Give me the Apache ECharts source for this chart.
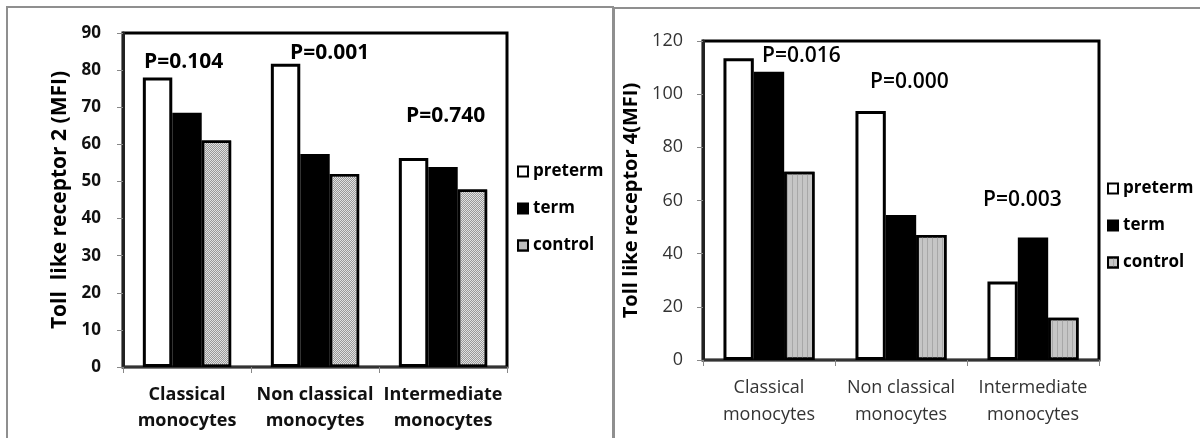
<!DOCTYPE html>
<html>
<head>
<meta charset="utf-8">
<script src="https://cdn.jsdelivr.net/npm/echarts/dist/echarts.min.js"></script>
<style>
	html, body { margin: 0; padding: 0; background: #fff; }
	body { width: 1200px; height: 438px; position: relative; overflow: hidden; }
	.frame { position: absolute; border: 2px solid #8f8f8f; box-sizing: border-box; }
	.chart { position: absolute; top: 0; height: 438px; }
</style>
</head>
<body>
<div class="frame" style="left:6px;top:6px;width:608px;height:460px;"></div>
<div class="frame" style="left:613px;top:7px;width:600px;height:460px;"></div>
<div class="chart" id="chart1" style="left:0;width:612px;"></div>
<div class="chart" id="chart2" style="left:612px;width:588px;"></div>
<script>
// 数据
let categories = [ 'Classical\nmonocytes', 'Non classical\nmonocytes', 'Intermediate\nmonocytes' ];
let seriesNames = [ 'preterm', 'term', 'control' ];

// TLR2
let tlr2Preterm = [ 78, 81.7, 56.3 ];
let tlr2Term = [ 68.5, 57.4, 53.9 ];
let tlr2Control = [ 61, 52, 47.8 ];
let tlr2Ticks = { min: 0, max: 90, interval: 10 };
let tlr2P = [ 'P=0.104', 'P=0.001', 'P=0.740' ];

// TLR4
let tlr4Preterm = [ 113.5, 93.7, 29.5 ];
let tlr4Term = [ 108.4, 54.5, 46.1 ];
let tlr4Control = [ 70.8, 47, 15.9 ];
let tlr4Ticks = { min: 0, max: 120, interval: 20 };
let tlr4P = [ 'P=0.016', 'P=0.000', 'P=0.003' ];

const FONT = '"Open Sans", "Liberation Sans", sans-serif';

function makeOption(cfg) {
	return {
		animation: false,
		textStyle: { fontFamily: FONT },
		grid: cfg.grid,
		legend: {
			orient: 'vertical',
			left: cfg.legendPos[0],
			top: cfg.legendPos[1],
			itemWidth: 10,
			itemHeight: 10,
			itemGap: 20,
			icon: 'rect',
			selectedMode: false,
			itemStyle: { borderColor: '#000', borderWidth: 2 },
			textStyle: { fontFamily: FONT, fontSize: 17, fontWeight: 'bold', color: '#000', lineHeight: 17 },
			data: seriesNames
		},
		xAxis: {
			type: 'category',
			data: categories,
			axisLine: { show: true, lineStyle: { color: '#333', width: 2 } },
			axisTick: { show: true, length: 6, lineStyle: { color: '#888' } },
			axisLabel: {
				interval: 0,
				margin: cfg.xLabelMargin,
				fontFamily: FONT,
				fontSize: 18,
				lineHeight: cfg.xLineHeight,
				fontWeight: cfg.labelWeight,
				color: cfg.labelColor
			}
		},
		yAxis: {
			type: 'value',
			min: cfg.ticks.min,
			max: cfg.ticks.max,
			interval: cfg.ticks.interval,
			name: cfg.yName,
			nameLocation: 'middle',
			nameGap: cfg.nameGap,
			nameTextStyle: { fontFamily: FONT, fontSize: cfg.nameSize, fontWeight: 'bold', color: '#000' },
			splitLine: { show: false },
			axisLine: { show: true, lineStyle: { color: '#222', width: 3 } },
			axisTick: { show: true, length: 6, lineStyle: { color: '#888' } },
			axisLabel: {
				margin: cfg.yLabelMargin,
				fontFamily: FONT,
				fontSize: cfg.yLabelSize,
				fontWeight: cfg.labelWeight,
				color: cfg.labelColor
			}
		},
		series: [
			{
				name: 'preterm',
				type: 'bar',
				data: cfg.data[0],
				barGap: '0%',
				barCategoryGap: '31%',
				itemStyle: { color: '#fff', borderColor: '#000', borderWidth: 3 }
			},
			{
				name: 'term',
				type: 'bar',
				data: cfg.data[1],
				itemStyle: { color: '#000', borderColor: '#000', borderWidth: 3 }
			},
			{
				name: 'control',
				type: 'bar',
				data: cfg.data[2],
				itemStyle: cfg.controlStyle
			}
		],
		// P 值标注
		graphic: cfg.pLabels.map((t, i) => ({
			type: 'text',
			x: cfg.pPos[i][0],
			y: cfg.pPos[i][1],
			z: 100,
			style: {
				text: t,
				fill: '#000',
				font: cfg.pWeight + ' 21px ' + FONT,
				verticalAlign: 'middle'
			}
		}))
	};
}

let chart1 = echarts.init(document.getElementById('chart1'));
chart1.setOption(
	makeOption({
		grid: { left: 123, top: 33, width: 384, height: 334, show: true, borderColor: '#000', borderWidth: 3, backgroundColor: 'transparent' },
		legendPos: [ 512, 158 ],
		ticks: tlr2Ticks,
		yName: 'Toll  like receptor 2 (MFI)',
		nameGap: 48,
		nameSize: 21,
		yLabelMargin: 22,
		yLabelSize: 17,
		xLabelMargin: 15,
		xLineHeight: 26,
		labelWeight: 'bold',
		labelColor: '#111',
		data: [ tlr2Preterm, tlr2Term, tlr2Control ],
		controlStyle: {
			color: '#e2e2e2',
			borderColor: '#000',
			borderWidth: 2.5,
			decal: { symbol: 'rect', symbolSize: 1, dashArrayX: [ [ 1, 1 ], [ 0, 1, 1, 0 ] ], dashArrayY: [ 1, 0 ], color: '#999' }
		},
		pLabels: tlr2P,
		pPos: [ [ 144, 62 ], [ 290, 53 ], [ 406, 116 ] ],
		pWeight: 'bold'
	})
);

let chart2 = echarts.init(document.getElementById('chart2'));
chart2.setOption(
	makeOption({
		grid: { left: 91, top: 41, width: 396, height: 319, show: true, borderColor: '#000', borderWidth: 3, backgroundColor: 'transparent' },
		legendPos: [ 490, 175 ],
		ticks: tlr4Ticks,
		yName: 'Toll like receptor 4(MFI)',
		nameGap: 58,
		nameSize: 20,
		yLabelMargin: 20,
		yLabelSize: 18,
		xLabelMargin: 14,
		xLineHeight: 27,
		labelWeight: 'normal',
		labelColor: '#333',
		data: [ tlr4Preterm, tlr4Term, tlr4Control ],
		controlStyle: {
			color: '#c6c6c6',
			borderColor: '#000',
			borderWidth: 2.5,
			decal: { symbol: 'rect', symbolSize: 1, dashArrayX: [ 1, 4 ], dashArrayY: [ 4, 0 ], color: '#a8a8a8' }
		},
		pLabels: tlr4P,
		pPos: [ [ 150, 56 ], [ 258, 82 ], [ 371, 200 ] ],
		pWeight: '600'
	})
);
</script>
</body>
</html>
